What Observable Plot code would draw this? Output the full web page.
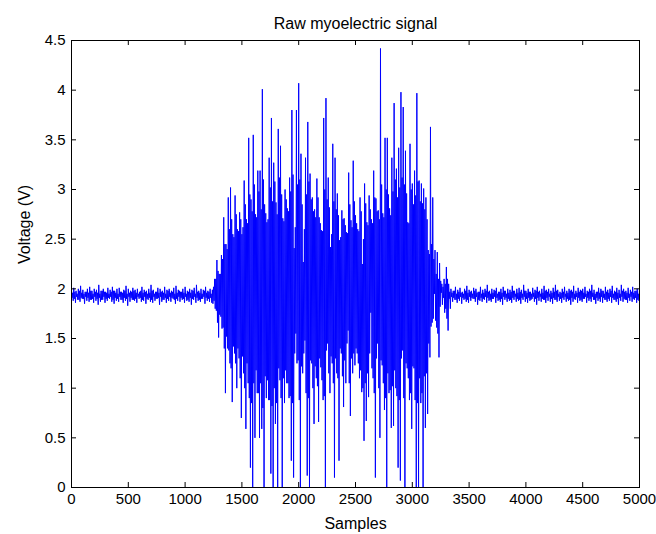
<!DOCTYPE html>
<html>
<head>
<meta charset="utf-8">
<script src="https://cdn.jsdelivr.net/npm/d3@7"></script>
<script src="https://cdn.jsdelivr.net/npm/@observablehq/plot@0.6"></script>
<style>
  html, body { margin: 0; padding: 0; background: #fff; }
  #chart svg { display: block; }
</style>
</head>
<body>
<div id="chart"></div>
<script>
// ---- chart text ----
const titleText = "Raw myoelectric signal";
const xLabelText = "Samples";
const yLabelText = "Voltage (V)";

// ---- tick values & labels ----
const xTicks = [0, 500, 1000, 1500, 2000, 2500, 3000, 3500, 4000, 4500, 5000];
const xTickLabels = ["0", "500", "1000", "1500", "2000", "2500", "3000", "3500", "4000", "4500", "5000"];
const yTicks = [0, 0.5, 1, 1.5, 2, 2.5, 3, 3.5, 4, 4.5];
const yTickLabels = ["0", "0.5", "1", "1.5", "2", "2.5", "3", "3.5", "4", "4.5"];

// ---- signal values ----
// consecutive values are 5 samples apart; each group of four is
// (spike high, inner low, inner high, spike low)
const sampleStep = 5;

// Resting segment (samples 0 - 1235)
const quiet1Top = [
  1.99, 2.01, 1.98, 2.00, 2.03, 1.99, 1.97, 2.00, 2.02, 1.98,
  2.00, 1.99, 2.04, 1.98, 2.00, 1.97, 2.01, 1.99, 2.02, 1.98,
  2.00, 2.01, 1.97, 1.99, 2.03, 2.00, 1.98, 2.01, 1.99, 2.00,
  1.97, 2.02, 1.99, 1.98, 2.00, 2.04, 1.99, 1.97, 2.01, 2.00,
  1.98, 2.02, 1.99, 2.00, 1.98, 2.01, 2.03, 1.99, 1.97, 2.00,
  2.02, 1.98, 2.00, 1.99, 2.01, 2.04, 1.98, 2.00, 1.99, 2.02,
  1.98, 2.00
];
const quiet1MidLow = [
  1.91, 1.90, 1.92, 1.89, 1.91, 1.90, 1.92, 1.91, 1.89, 1.90,
  1.92, 1.90, 1.91, 1.89, 1.92, 1.90, 1.91, 1.92, 1.89, 1.91,
  1.90, 1.92, 1.89, 1.91, 1.90, 1.92, 1.91, 1.89, 1.90, 1.92,
  1.91, 1.89, 1.92, 1.90, 1.91, 1.89, 1.92, 1.90, 1.91, 1.92,
  1.89, 1.91, 1.90, 1.92, 1.91, 1.89, 1.90, 1.92, 1.91, 1.90,
  1.92, 1.89, 1.91, 1.90, 1.92, 1.91, 1.89, 1.90, 1.92, 1.91,
  1.90, 1.91
];
const quiet1MidHigh = [
  1.96, 1.97, 1.95, 1.98, 1.96, 1.95, 1.97, 1.96, 1.98, 1.95,
  1.97, 1.96, 1.95, 1.98, 1.97, 1.96, 1.95, 1.97, 1.98, 1.96,
  1.95, 1.97, 1.96, 1.98, 1.95, 1.96, 1.97, 1.98, 1.96, 1.95,
  1.98, 1.96, 1.97, 1.95, 1.96, 1.98, 1.95, 1.97, 1.96, 1.97,
  1.96, 1.95, 1.98, 1.96, 1.97, 1.95, 1.96, 1.98, 1.97, 1.96,
  1.95, 1.97, 1.96, 1.98, 1.95, 1.97, 1.96, 1.95, 1.98, 1.96,
  1.97, 1.95
];
const quiet1Bottom = [
  1.88, 1.86, 1.89, 1.87, 1.90, 1.85, 1.88, 1.87, 1.89, 1.86,
  1.88, 1.84, 1.87, 1.89, 1.86, 1.88, 1.90, 1.87, 1.85, 1.88,
  1.87, 1.89, 1.86, 1.88, 1.83, 1.87, 1.89, 1.88, 1.86, 1.90,
  1.87, 1.88, 1.85, 1.89, 1.87, 1.86, 1.88, 1.90, 1.84, 1.87,
  1.89, 1.86, 1.88, 1.87, 1.90, 1.85, 1.88, 1.87, 1.89, 1.86,
  1.88, 1.87, 1.84, 1.89, 1.86, 1.88, 1.87, 1.90, 1.85, 1.88,
  1.87, 1.86
];

// Contraction burst (samples 1240 - 3315)
const burstTop = [
  1.99, 2.10, 2.29, 2.15, 2.34, 2.72, 2.45, 2.92, 3.02, 2.55,
  2.94, 2.60, 2.77, 2.55, 3.09, 2.70, 3.52, 2.90, 3.55, 2.75,
  3.19, 3.19, 4.01, 2.85, 2.67, 3.32, 3.72, 3.27, 2.87, 3.61,
  3.44, 2.71, 3.00, 2.81, 3.12, 3.80, 2.41, 3.80, 4.07, 3.36,
  2.27, 3.32, 3.68, 3.16, 2.92, 2.80, 3.11, 2.72, 2.59, 3.72,
  3.92, 3.12, 2.42, 3.46, 3.32, 2.96, 2.49, 2.79, 2.71, 2.57,
  3.17, 2.69, 3.29, 2.74, 2.60, 2.92, 2.25, 3.06, 2.67, 2.94,
  2.70, 3.19, 2.91, 2.79, 4.42, 2.76, 3.52, 3.52, 2.81, 3.32,
  3.87, 3.21, 3.42, 3.98, 3.83, 3.39, 2.67, 3.46, 3.06, 3.19,
  3.97, 3.09, 3.06, 3.01, 2.92, 2.39, 3.63, 2.92, 2.39, 2.37,
  2.26, 2.05, 2.10, 2.22
];
const burstMidLow = [
  1.85, 1.80, 1.66, 1.74, 1.60, 1.40, 1.52, 1.38, 1.20, 1.42,
  1.25, 1.40, 1.10, 1.32, 1.00, 1.25, 0.90, 0.85, 1.05, 1.18,
  0.95, 1.05, 0.80, 1.12, 1.08, 0.88, 0.82, 1.00, 0.85, 1.20,
  0.90, 1.10, 1.18, 1.05, 0.92, 0.85, 1.35, 1.25, 0.88, 1.22,
  1.35, 0.95, 0.90, 1.28, 1.00, 1.22, 1.02, 1.30, 1.08, 0.92,
  1.38, 1.15, 1.32, 1.05, 1.30, 1.10, 1.40, 1.12, 1.28, 1.45,
  1.05, 1.30, 1.35, 1.40, 1.25, 1.18, 1.00, 1.05, 1.15, 1.35,
  1.20, 0.95, 1.30, 1.00, 1.28, 1.05, 0.90, 1.15, 0.98, 1.02,
  1.18, 0.92, 0.88, 1.30, 0.90, 1.25, 1.10, 0.95, 1.22, 0.88,
  0.85, 1.10, 0.95, 1.12, 1.15, 1.45, 1.62, 1.70, 1.68, 1.55,
  1.82, 1.84, 1.76, 1.70
];
const burstMidHigh = [
  2.02, 2.10, 2.18, 2.15, 2.30, 2.45, 2.40, 2.60, 2.70, 2.52,
  2.75, 2.58, 2.70, 2.62, 2.85, 2.66, 2.95, 2.78, 3.05, 2.72,
  2.98, 2.80, 3.10, 2.76, 2.70, 3.02, 2.88, 3.08, 2.75, 3.12,
  2.95, 2.68, 2.90, 2.78, 2.98, 3.15, 2.62, 3.05, 3.10, 2.85,
  2.60, 2.95, 3.08, 2.90, 2.78, 2.72, 2.92, 2.66, 2.58, 3.00,
  2.90, 2.82, 2.55, 2.88, 2.80, 2.74, 2.52, 2.70, 2.64, 2.56,
  2.85, 2.62, 2.88, 2.66, 2.58, 2.78, 2.50, 2.86, 2.64, 2.80,
  2.66, 2.92, 2.78, 2.70, 3.05, 2.72, 3.00, 2.95, 2.74, 2.98,
  3.10, 2.92, 3.02, 3.12, 3.05, 2.96, 2.66, 3.00, 2.85, 2.94,
  3.08, 2.88, 2.86, 2.80, 2.70, 2.35, 2.45, 2.30, 2.15, 2.10,
  2.08, 2.02, 2.05, 2.10
];
const burstBottom = [
  1.88, 1.78, 1.51, 1.72, 1.61, 0.95, 1.40, 1.25, 0.86, 1.35,
  1.00, 1.30, 0.70, 1.15, 0.59, 1.05, 0.20, 0.00, 0.50, 0.95,
  0.50, 0.59, 0.00, 0.90, 0.88, 0.14, 0.00, 0.64, 0.00, 1.08,
  0.00, 0.85, 1.05, 0.90, 0.27, 0.10, 1.55, 1.28, 0.00, 1.15,
  1.48, 0.12, 0.00, 1.25, 0.64, 1.10, 0.66, 1.21, 0.88, 0.00,
  1.45, 0.95, 1.25, 0.10, 1.15, 0.27, 1.35, 0.81, 1.05, 1.58,
  0.72, 1.15, 1.23, 1.35, 1.10, 0.96, 0.47, 0.67, 0.91, 1.76,
  1.10, 0.10, 1.45, 0.50, 1.23, 0.78, 0.00, 0.95, 0.60, 0.62,
  1.00, 0.20, 0.07, 1.38, 0.00, 1.20, 0.88, 0.59, 1.20, 0.00,
  0.00, 0.85, 0.00, 0.60, 0.74, 1.31, 1.66, 1.95, 1.61, 1.31,
  1.96, 1.91, 1.80, 1.58
];

// Resting segment (samples 3320 - 5000+)
const quiet2Top = [
  2.05, 2.00, 1.98, 2.02, 1.99, 2.01, 1.97, 2.00, 2.03, 1.99,
  1.98, 2.01, 2.00, 1.97, 2.02, 1.99, 2.00, 2.04, 1.98, 2.00,
  1.99, 2.01, 1.97, 2.00, 2.02, 1.98, 2.00, 1.99, 2.03, 1.98,
  2.00, 2.01, 1.99, 2.04, 1.98, 2.00, 1.97, 2.01, 1.99, 2.02,
  1.98, 2.00, 2.03, 1.99, 2.00, 1.98, 2.01, 2.04, 1.99, 1.97,
  2.00, 2.02, 1.98, 2.00, 1.99, 2.03, 1.98, 2.01, 1.99, 2.00,
  2.02, 1.98, 2.00, 2.04, 1.99, 1.97, 2.01, 2.00, 1.98, 2.02,
  1.99, 2.00, 2.03, 1.98, 2.01, 1.99, 2.04, 2.00, 1.98, 2.01,
  1.99, 2.02, 1.98, 2.00, 2.01
];
const quiet2MidLow = [
  1.90, 1.92, 1.91, 1.89, 1.90, 1.92, 1.91, 1.90, 1.89, 1.92,
  1.91, 1.90, 1.92, 1.89, 1.91, 1.90, 1.92, 1.91, 1.89, 1.90,
  1.92, 1.91, 1.89, 1.90, 1.92, 1.91, 1.90, 1.89, 1.91, 1.92,
  1.90, 1.89, 1.91, 1.92, 1.90, 1.91, 1.89, 1.92, 1.90, 1.91,
  1.92, 1.90, 1.89, 1.91, 1.92, 1.90, 1.91, 1.89, 1.92, 1.90,
  1.91, 1.92, 1.90, 1.89, 1.91, 1.90, 1.92, 1.91, 1.89, 1.90,
  1.92, 1.91, 1.90, 1.92, 1.89, 1.91, 1.90, 1.92, 1.91, 1.89,
  1.90, 1.92, 1.91, 1.89, 1.90, 1.91, 1.92, 1.90, 1.89, 1.91,
  1.92, 1.90, 1.91, 1.89, 1.90
];
const quiet2MidHigh = [
  1.97, 1.96, 1.98, 1.95, 1.97, 1.96, 1.95, 1.98, 1.96, 1.97,
  1.95, 1.98, 1.96, 1.97, 1.95, 1.96, 1.98, 1.97, 1.95, 1.96,
  1.98, 1.95, 1.97, 1.96, 1.98, 1.95, 1.96, 1.97, 1.98, 1.95,
  1.96, 1.97, 1.95, 1.98, 1.96, 1.97, 1.95, 1.96, 1.98, 1.97,
  1.95, 1.96, 1.98, 1.97, 1.95, 1.96, 1.97, 1.98, 1.95, 1.96,
  1.97, 1.95, 1.96, 1.98, 1.97, 1.95, 1.96, 1.97, 1.98, 1.96,
  1.95, 1.97, 1.98, 1.96, 1.95, 1.97, 1.96, 1.98, 1.95, 1.97,
  1.96, 1.98, 1.95, 1.97, 1.96, 1.95, 1.98, 1.97, 1.96, 1.95,
  1.97, 1.96, 1.98, 1.95, 1.97
];
const quiet2Bottom = [
  1.80, 1.87, 1.89, 1.86, 1.88, 1.85, 1.89, 1.87, 1.86, 1.88,
  1.90, 1.87, 1.84, 1.88, 1.87, 1.89, 1.86, 1.88, 1.87, 1.90,
  1.86, 1.88, 1.87, 1.84, 1.89, 1.87, 1.88, 1.86, 1.89, 1.87,
  1.88, 1.85, 1.89, 1.87, 1.86, 1.88, 1.90, 1.87, 1.84, 1.88,
  1.87, 1.89, 1.86, 1.88, 1.87, 1.85, 1.89, 1.87, 1.88, 1.86,
  1.89, 1.87, 1.88, 1.84, 1.87, 1.89, 1.86, 1.88, 1.87, 1.90,
  1.86, 1.88, 1.87, 1.89, 1.85, 1.88, 1.87, 1.86, 1.89, 1.87,
  1.88, 1.86, 1.89, 1.87, 1.84, 1.88, 1.87, 1.89, 1.86, 1.88,
  1.87, 1.89, 1.86, 1.88, 1.85
];

// ---- assemble the series (values in order, one per sample step) ----
const segments = [
  [quiet1Top, quiet1MidLow, quiet1MidHigh, quiet1Bottom],
  [burstTop, burstMidLow, burstMidHigh, burstBottom],
  [quiet2Top, quiet2MidLow, quiet2MidHigh, quiet2Bottom]
];
const voltages = [];
for (const [top, midLow, midHigh, bottom] of segments) {
  for (let i = 0; i < top.length; i++) voltages.push(top[i], midLow[i], midHigh[i], bottom[i]);
}
const signal = voltages.map((v, i) => ({sample: i * sampleStep, voltage: v}));

// ---- layout ----
const W = 656, H = 534;
const mL = 71, mR = 17, mT = 40, mB = 47;
const frameW = W - mL - mR, frameH = H - mT - mB;
const tickLen = 5;
const font = "'Liberation Sans', Arial, Helvetica, sans-serif";

const chart = Plot.plot({
  width: W,
  height: H,
  marginLeft: mL,
  marginRight: mR,
  marginTop: mT,
  marginBottom: mB,
  style: {fontFamily: font, background: "#fff", color: "#000"},
  x: {domain: [0, 5000], ticks: xTicks},
  y: {domain: [0, 4.5], ticks: yTicks},
  marks: [
    Plot.line(signal, {x: "sample", y: "voltage", stroke: "#0000ff", strokeWidth: 1, clip: true}),
    Plot.frame({stroke: "#000", strokeWidth: 1}),
    // inward ticks on all four sides (MATLAB box style)
    Plot.tickX(xTicks, {x: d => d, stroke: "#000", insetTop: frameH - tickLen}),
    Plot.tickX(xTicks, {x: d => d, stroke: "#000", insetBottom: frameH - tickLen}),
    Plot.tickY(yTicks, {y: d => d, stroke: "#000", insetRight: frameW - tickLen}),
    Plot.tickY(yTicks, {y: d => d, stroke: "#000", insetLeft: frameW - tickLen}),
    Plot.axisX({ticks: xTicks, tickSize: 0, tickPadding: 6, fontSize: 15,
      tickFormat: d => xTickLabels[xTicks.indexOf(d)], label: null}),
    Plot.axisY({ticks: yTicks, tickSize: 0, tickPadding: 6, fontSize: 15,
      tickFormat: d => yTickLabels[yTicks.indexOf(d)], label: null}),
    Plot.text([titleText], {frameAnchor: "top", dy: -12, lineAnchor: "bottom", fontSize: 16, fill: "#000"}),
    Plot.text([xLabelText], {frameAnchor: "bottom", dy: 41, lineAnchor: "bottom", fontSize: 16, fill: "#000"}),
    Plot.text([yLabelText], {frameAnchor: "left", dx: -47, rotate: -90, fontSize: 16, fill: "#000"})
  ]
});
document.getElementById("chart").appendChild(chart);
</script>
</body>
</html>
